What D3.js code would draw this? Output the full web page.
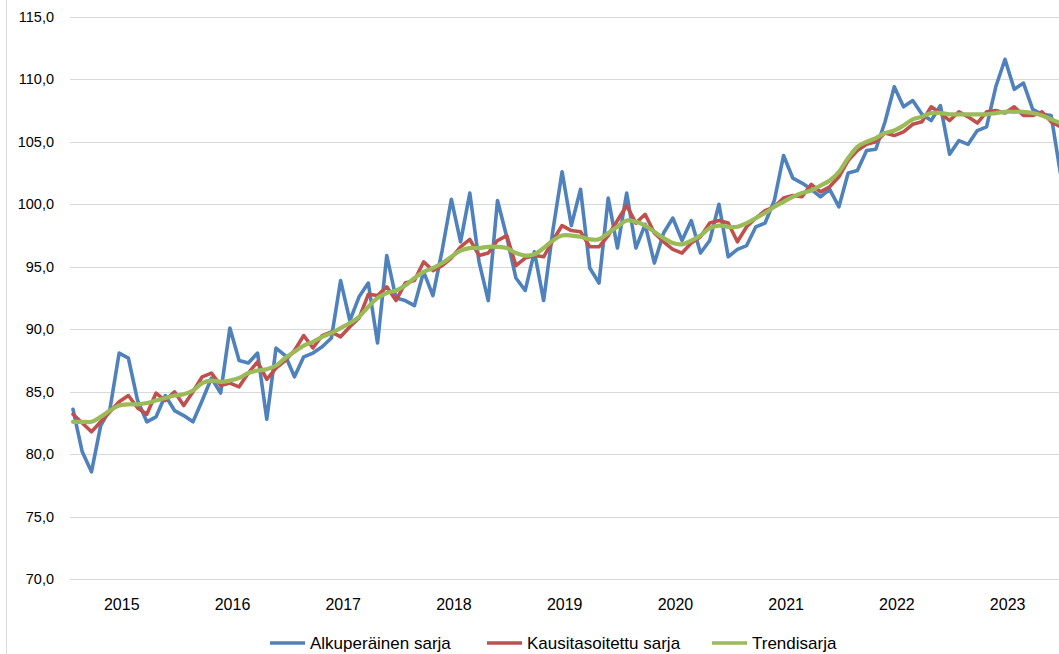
<!DOCTYPE html>
<html>
<head>
<meta charset="utf-8">
<script src="https://cdnjs.cloudflare.com/ajax/libs/d3/7.8.5/d3.min.js"></script>
<style>
  body { margin: 0; background: #fff; }
  text { font-family: "Liberation Sans", Arial, sans-serif; fill: #000; }
</style>
</head>
<body>
<script>
// monthly index, 2015-01 .. 2023-12
var years = [2015, 2016, 2017, 2018, 2019, 2020, 2021, 2022, 2023];
var yTicks = [70, 75, 80, 85, 90, 95, 100, 105, 110, 115];

var alkuperainen = [
  83.6, 80.2, 78.6, 82.3, 83.6, 88.1, 87.7, 84.3, 82.6, 83.0, 84.7, 83.5,
  83.1, 82.6, 84.3, 86.1, 84.9, 90.1, 87.5, 87.3, 88.1, 82.8, 88.5, 87.9,
  86.2, 87.8, 88.1, 88.6, 89.3, 93.9, 90.7, 92.6, 93.7, 88.9, 95.9, 92.5,
  92.3, 91.9, 94.6, 92.7, 96.3, 100.4, 97.0, 100.9, 95.4, 92.3, 100.3, 97.4,
  94.1, 93.1, 96.2, 92.3, 97.9, 102.6, 98.3, 101.2, 94.9, 93.7, 100.5, 96.5,
  100.9, 96.5, 98.4, 95.3, 97.7, 98.9, 97.1, 98.7, 96.1, 97.1, 100.0, 95.8,
  96.4, 96.7, 98.2, 98.5, 100.3, 103.9, 102.1, 101.7, 101.2, 100.6, 101.2, 99.8,
  102.5, 102.7, 104.3, 104.4, 106.6, 109.4, 107.8, 108.3, 107.2, 106.7, 107.9, 104.0,
  105.1, 104.8, 105.9, 106.2, 109.4, 111.6, 109.2, 109.7, 107.6, 107.2, 107.1, 102.5
];

var kausitasoitettu = [
  83.2, 82.5, 81.8, 82.6, 83.4, 84.2, 84.7, 83.7, 83.2, 84.9, 84.3, 85.0,
  83.9, 85.0, 86.2, 86.5, 85.5, 85.7, 85.4, 86.5, 87.4, 86.0, 86.9, 87.5,
  88.3, 89.5, 88.5, 89.5, 89.8, 89.4, 90.2, 90.9, 92.8, 92.7, 93.4, 92.3,
  93.7, 93.9, 95.4, 94.7, 95.1, 95.7, 96.6, 97.2, 95.9, 96.1, 97.1, 97.5,
  95.1, 95.7, 95.9, 95.8, 97.1, 98.3, 97.9, 97.8, 96.6, 96.6, 97.5, 98.7,
  99.9, 98.5, 99.2, 97.7, 97.0, 96.4, 96.1, 96.9, 97.4, 98.5, 98.7, 98.5,
  97.0, 98.2, 98.9, 99.5, 99.8, 100.5, 100.7, 100.6, 101.6, 101.0, 101.4, 102.2,
  103.5, 104.3, 104.8, 105.0, 105.7, 105.5, 105.8, 106.4, 106.6, 107.8, 107.3, 106.7,
  107.4, 107.0, 106.5, 107.4, 107.5, 107.3, 107.8, 107.1, 107.1, 107.4, 106.6, 106.2
];

var trendi = [
  82.6, 82.6, 82.6, 83.0, 83.5, 83.9, 84.0, 84.0, 84.1, 84.3, 84.5, 84.7,
  84.8, 85.1, 85.7, 85.9, 85.8, 85.9, 86.1, 86.5, 86.7, 86.8, 87.1, 87.7,
  88.2, 88.7, 89.0, 89.4, 89.7, 90.1, 90.5, 91.0, 91.8, 92.5, 92.9, 93.1,
  93.5, 94.1, 94.6, 94.9, 95.3, 95.8, 96.3, 96.5, 96.5, 96.6, 96.6, 96.5,
  96.1, 95.9, 96.0, 96.5, 97.1, 97.5, 97.5, 97.4, 97.2, 97.2, 97.7, 98.2,
  98.7, 98.6, 98.3, 97.8, 97.3, 96.9, 96.8, 97.1, 97.5, 98.1, 98.3, 98.2,
  98.2, 98.5, 98.9, 99.3, 99.8, 100.2, 100.6, 100.9, 101.1, 101.5, 101.9, 102.6,
  103.7, 104.6, 105.0, 105.3, 105.7, 105.9, 106.3, 106.8, 107.0, 107.3, 107.3, 107.2,
  107.2, 107.2, 107.2, 107.2, 107.3, 107.4, 107.4, 107.4, 107.3, 107.1, 106.8, 106.5
];

var seriesNames = ["Alkuperäinen sarja", "Kausitasoitettu sarja", "Trendisarja"];
var seriesColors = ["#4f81bd", "#c0504d", "#9bbb59"];

var months = [];
years.forEach(function (y) {
  for (var m = 1; m <= 12; m++) months.push(y + "-" + m);
});

var width = 1059, height = 654;

var svg = d3.select("body").append("svg")
    .attr("width", width)
    .attr("height", height);

// chart area border (only the left edge is inside the picture)
svg.append("line")
    .attr("x1", 6.5).attr("x2", 6.5)
    .attr("y1", 0).attr("y2", height)
    .attr("stroke", "#d9d9d9");

var x = d3.scaleBand()
    .domain(months)
    .range([68.4, 1065]);

var y = d3.scaleLinear()
    .domain([70, 115])
    .range([579.3, 16.8]);

function cx(d, i) { return x(months[i]) + x.bandwidth() / 2; }

// gridlines
svg.append("g").selectAll("line")
    .data(yTicks)
    .enter()
    .append("line")
    .attr("x1", 70)
    .attr("x2", width)
    .attr("y1", function (d) { return Math.round(y(d)) + 0.5; })
    .attr("y2", function (d) { return Math.round(y(d)) + 0.5; })
    .attr("stroke", "#d9d9d9")
    .attr("stroke-width", 1);

var fmt = function (d) { return d.toFixed(1).replace(".", ","); };

svg.append("g").selectAll("text")
    .data(yTicks)
    .enter()
    .append("text")
    .attr("x", 54)
    .attr("y", function (d) { return y(d); })
    .attr("dy", "0.35em")
    .attr("text-anchor", "end")
    .attr("font-size", "14.5px")
    .text(fmt);

// year labels centred under their 12 months
svg.append("g").selectAll("text")
    .data(years)
    .enter()
    .append("text")
    .attr("x", function (d) {
      var a = x(d + "-1"), b = x(d + "-12") + x.bandwidth();
      return (a + b) / 2 - 2;
    })
    .attr("y", 604)
    .attr("dy", "0.35em")
    .attr("text-anchor", "middle")
    .attr("font-size", "16px")
    .text(function (d) { return d; });

var line = d3.line()
    .x(cx)
    .y(function (d) { return y(d); });

var smooth = d3.line()
    .x(cx)
    .y(function (d) { return y(d); })
    .curve(d3.curveCatmullRom);

var series = [alkuperainen, kausitasoitettu, trendi];

svg.append("g").selectAll("path")
    .data(series)
    .enter()
    .append("path")
    .attr("d", function (d, i) { return i === 2 ? smooth(d) : line(d); })
    .attr("fill", "none")
    .attr("stroke", function (d, i) { return seriesColors[i]; })
    .attr("stroke-width", function (d, i) { return i === 2 ? 4.2 : 3.6; })
    .attr("stroke-linejoin", "round")
    .attr("stroke-linecap", "round");

// legend
var legendX = [270, 487, 712];
var legend = svg.append("g").selectAll("g")
    .data(seriesNames)
    .enter()
    .append("g")
    .attr("transform", function (d, i) { return "translate(" + legendX[i] + ",643)"; });

legend.append("line")
    .attr("x1", 0).attr("x2", 35)
    .attr("stroke", function (d, i) { return seriesColors[i]; })
    .attr("stroke-width", 3.6);

legend.append("text")
    .attr("x", 40)
    .attr("dy", "0.35em")
    .attr("font-size", "17px")
    .text(function (d) { return d; });
</script>
</body>
</html>
